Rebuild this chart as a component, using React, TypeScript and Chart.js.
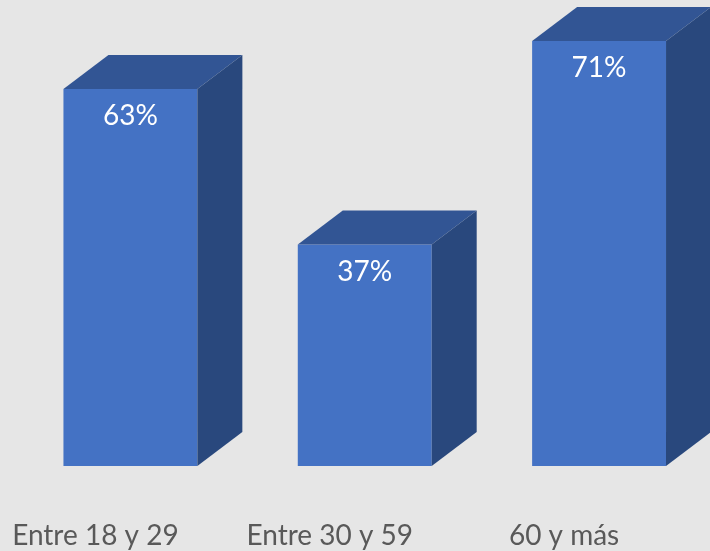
import { useEffect, useRef } from "react";
import { Chart, registerables } from "chart.js";

Chart.register(...registerables);

const categories = ["Entre 18 y 29", "Entre 30 y 59", "60 y más"];
const values = [63, 37, 71];
const valueLabels = ["63%", "37%", "71%"];

const FRONT = "#4472C4";
const TOP = "#325594";
const SIDE = "#29487D";
const BG = "#E6E6E6";
const DX = 45;
const DY = 34;

const bar3d = {
  id: "bar3d",
  afterDatasetsDraw(chart: any) {
    const ctx = chart.ctx;
    const meta = chart.getDatasetMeta(0);
    meta.data.forEach((el: any, i: number) => {
      const { x, y, base, width } = el.getProps(["x", "y", "base", "width"], true);
      const l = x - width / 2;
      const r = x + width / 2;
      ctx.save();
      ctx.fillStyle = TOP;
      ctx.beginPath();
      ctx.moveTo(l, y);
      ctx.lineTo(l + DX, y - DY);
      ctx.lineTo(r + DX, y - DY);
      ctx.lineTo(r, y);
      ctx.closePath();
      ctx.fill();
      ctx.fillStyle = SIDE;
      ctx.beginPath();
      ctx.moveTo(r, y);
      ctx.lineTo(r + DX, y - DY);
      ctx.lineTo(r + DX, base - DY);
      ctx.lineTo(r, base);
      ctx.closePath();
      ctx.fill();
      ctx.fillStyle = "#FFFFFF";
      ctx.font = "28px Lato";
      ctx.textAlign = "center";
      ctx.textBaseline = "middle";
      ctx.fillText(valueLabels[i], x, y + 27);
      ctx.restore();
    });
  },
};

export default function App() {
  const ref = useRef<HTMLCanvasElement>(null);
  useEffect(() => {
    if (!ref.current) return;
    const chart = new Chart(ref.current, {
      type: "bar",
      data: {
        labels: categories,
        datasets: [
          {
            data: values,
            backgroundColor: FRONT,
            borderWidth: 0,
            barPercentage: 0.5714,
            categoryPercentage: 1,
          },
        ],
      },
      options: {
        responsive: false,
        animation: false,
        layout: { padding: { left: 12.75, right: 23.75, top: 10, bottom: 0 } },
        plugins: { legend: { display: false }, tooltip: { enabled: false } },
        scales: {
          x: {
            grid: { display: false },
            border: { display: false },
            ticks: {
              font: { family: "Lato", size: 28 },
              color: "#595959",
              padding: 45,
              labelOffset: -35,
              maxRotation: 0,
              autoSkip: false,
            },
            afterFit: (s: any) => {
              s.height = 85;
            },
          },
          y: { display: false, min: 0, max: 76.2 },
        },
      },
      plugins: [bar3d],
    });
    return () => chart.destroy();
  }, []);
  return (
    <div
      style={{
        position: "absolute",
        left: 0,
        top: 0,
        width: 710,
        height: 551,
        overflow: "hidden",
        background: BG,
      }}
    >
      <canvas ref={ref} width={740} height={551} style={{ display: "block" }} />
    </div>
  );
}
